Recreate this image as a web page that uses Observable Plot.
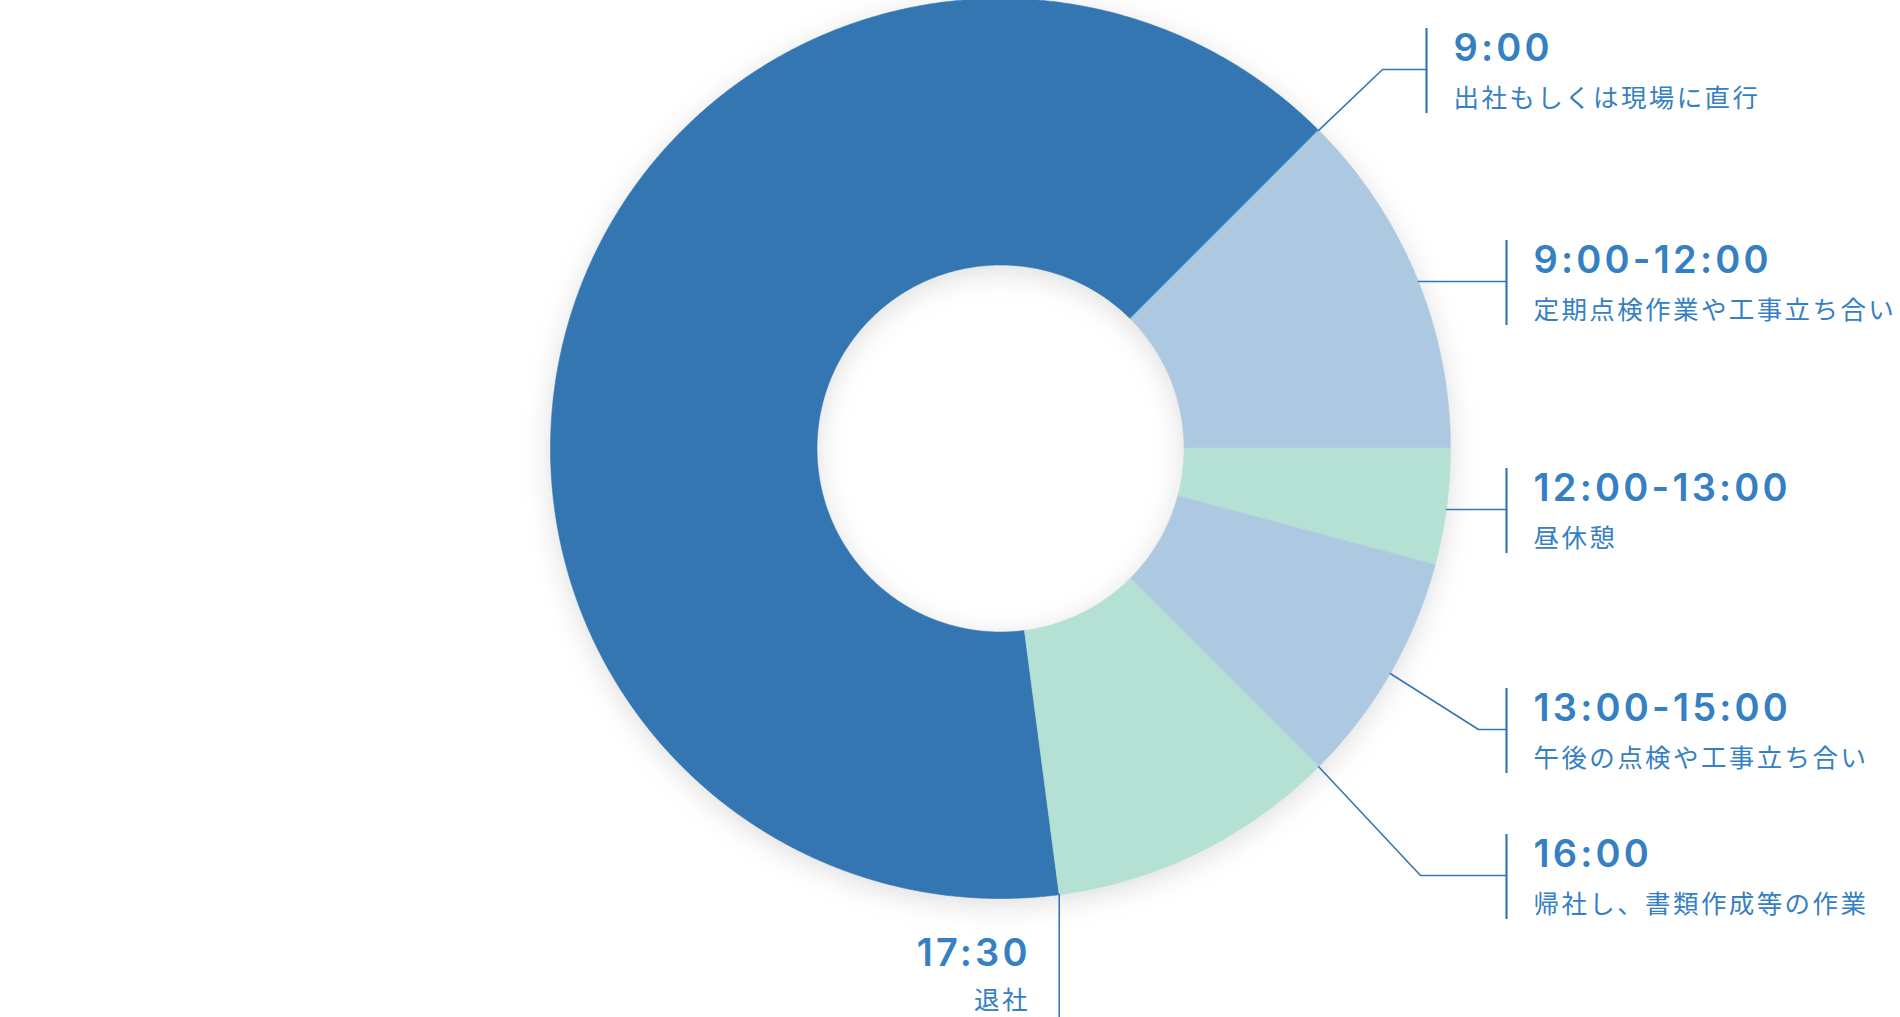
<!DOCTYPE html>
<html><head><meta charset="utf-8">
<script src="https://cdn.jsdelivr.net/npm/d3@7"></script>
<script src="https://cdn.jsdelivr.net/npm/@observablehq/plot@0.6"></script>
<style>
html,body{margin:0;padding:0;background:#fff;overflow:hidden;}
#chart svg{display:block;}
</style></head><body><div id="chart"></div>
<script>
// ---- data ----
const activities = ["退社〜出社", "定期点検作業や工事立ち合い", "昼休憩", "午後の点検や工事立ち合い", "帰社し、書類作成等の作業"];
const startHours = [17.5, 9, 12, 13, 15];
const durations = [15.5, 3, 1, 2, 2.5];
const sliceColors = ["#3376b2", "#adc9e1", "#b5e0d4", "#adc9e1", "#b5e0d4"];

const labelTitles = ["9:00", "9:00-12:00", "12:00-13:00", "13:00-15:00", "16:00", "17:30"];
const labelTexts = ["出社もしくは現場に直行", "定期点検作業や工事立ち合い", "昼休憩", "午後の点検や工事立ち合い", "帰社し、書類作成等の作業", "退社"];
const labelHours = [9, 10.5, 12.5, 14, 15, 17.5];

// ---- layout (pixels) ----
const W = 1900, H = 1017, CX = 1000, CY = 448, R = 450, RIN = 183.5;
const ux = px => (px - CX) / R;
const uy = py => (CY - py) / R;
const rowY = [69, 281, 509, 729, 875];
const barX = [1426, 1506, 1506, 1506, 1506];
const elbowX = [1382, null, null, 1478, 1420];
const leaderKind = ["angled", "horizontal", "horizontal", "angled", "angled", "vertical"];
const textGap = 27, titleDy = -9, subDy = 37;
const titleLS = 3.2, subLS = 2.4;
const txtColor = "#3580c3", lineColor = "#3577b4";

// ---- geometry from data ----
const ang = h => (h * 15 - 90) * Math.PI / 180; // clockwise from 12 o'clock
const innerRatio = RIN / R;
const ring = [];
activities.forEach((name, i) => {
  const a0 = ang(startHours[i]), a1 = ang(startHours[i] + durations[i]);
  const n = Math.max(2, Math.ceil((a1 - a0) / (Math.PI / 720)));
  for (let k = 0; k <= n; k++) { const a = a0 + (a1 - a0) * k / n; ring.push({name, x: Math.sin(a), y: Math.cos(a)}); }
  for (let k = n; k >= 0; k--) { const a = a0 + (a1 - a0) * k / n; ring.push({name, x: innerRatio * Math.sin(a), y: innerRatio * Math.cos(a)}); }
});

const leaders = [];
labelHours.forEach((h, i) => {
  const a = ang(h);
  const kind = leaderKind[i];
  const id = "L" + i;
  if (kind === "angled") {
    leaders.push({id, x: Math.sin(a), y: Math.cos(a)});
    leaders.push({id, x: ux(elbowX[i]), y: uy(rowY[i])});
    leaders.push({id, x: ux(barX[i]), y: uy(rowY[i])});
  } else if (kind === "horizontal") {
    const y = uy(rowY[i]);
    leaders.push({id, x: Math.sqrt(1 - y * y), y});
    leaders.push({id, x: ux(barX[i]), y});
  } else {
    leaders.push({id, x: Math.sin(a), y: Math.cos(a)});
    leaders.push({id, x: Math.sin(a), y: uy(H + 5)});
  }
});

const bars = rowY.map((y, i) => ({x: ux(barX[i]), y1: uy(y - 41), y2: uy(y + 44)}));

const labels = labelTitles.map((t, i) => {
  if (leaderKind[i] === "vertical") {
    return {title: t, sub: labelTexts[i], anchor: "end",
      tx: ux(1027 + titleLS), sx: ux(1027 + subLS), ty: uy(965), sy: uy(1008)};
  }
  return {title: t, sub: labelTexts[i], anchor: "start",
    tx: ux(barX[i] + textGap), sx: ux(barX[i] + textGap), ty: uy(rowY[i] + titleDy), sy: uy(rowY[i] + subDy)};
});
const startLabels = labels.filter(d => d.anchor === "start");
const endLabels = labels.filter(d => d.anchor === "end");

const styled = css => (index, scales, values, dims, context, next) => {
  const g = next(index, scales, values, dims, context);
  Object.entries(css).forEach(([k, v]) => g.style.setProperty(k, v));
  return g;
};
const titleFont = "Inter, 'Noto Sans', sans-serif";
const subFont = "'Noto Sans CJK JP', 'Noto Sans', sans-serif";
const titleOpts = {x: "tx", y: "ty", text: "title", lineAnchor: "bottom", fontSize: 38, fontWeight: 600, fontFamily: titleFont, fill: txtColor,
  render: styled({"letter-spacing": titleLS + "px"})};
const subOpts = {x: "sx", y: "sy", text: "sub", lineAnchor: "bottom", fontSize: 25.5, fontWeight: 400, fontFamily: subFont, fill: txtColor,
  render: styled({"letter-spacing": subLS + "px"})};

const chart = Plot.plot({
  width: W, height: H, margin: 0,
  x: {domain: [ux(0), ux(W)], axis: null},
  y: {domain: [uy(H), uy(0)], axis: null},
  color: {domain: activities, range: sliceColors},
  style: {background: "#fff", overflow: "hidden"},
  marks: [
    Plot.line(ring, {x: "x", y: "y", z: "name", fill: "name", stroke: "name", strokeWidth: 0.6, curve: "linear-closed",
      render: styled({"filter": "drop-shadow(0px 6px 14px rgba(0,0,0,0.13))"})}),
    Plot.line(leaders, {x: "x", y: "y", z: "id", stroke: lineColor, strokeWidth: 1.6}),
    Plot.ruleX(bars, {x: "x", y1: "y1", y2: "y2", stroke: lineColor, strokeWidth: 2.2}),
    Plot.text(startLabels, {...titleOpts, textAnchor: "start"}),
    Plot.text(endLabels, {...titleOpts, textAnchor: "end"}),
    Plot.text(startLabels, {...subOpts, textAnchor: "start"}),
    Plot.text(endLabels, {...subOpts, textAnchor: "end"})
  ]
});
document.getElementById("chart").appendChild(chart);
</script></body></html>
